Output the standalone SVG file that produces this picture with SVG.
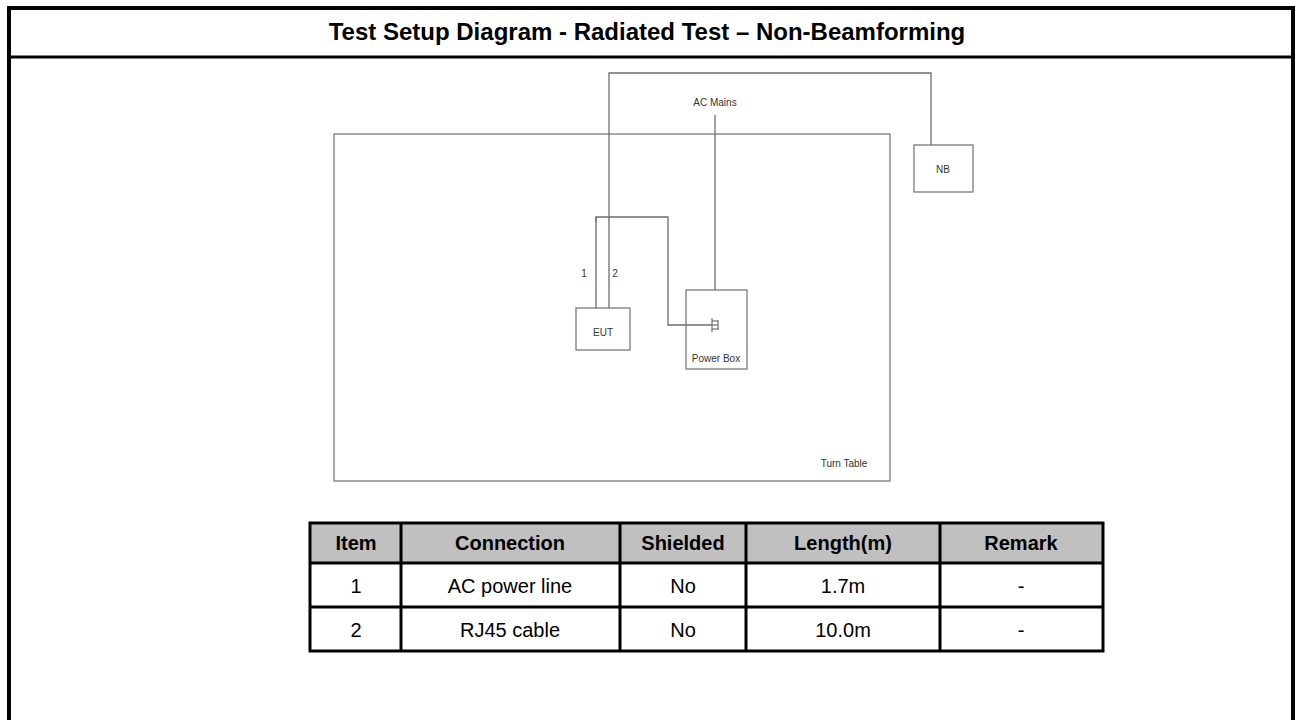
<svg xmlns="http://www.w3.org/2000/svg" width="1295" height="720" viewBox="0 0 1295 720">
<style>
.frame{fill:none;stroke:#000;stroke-width:4}
.box{fill:none;stroke:#7a7a7a;stroke-width:1.3}
.wire{fill:none;stroke:#6e6e6e;stroke-width:1.3}
.lbl{font-family:"Liberation Sans",Arial,sans-serif;font-size:10px;fill:#333;text-anchor:middle}
.title{font-family:"Liberation Sans",Arial,sans-serif;font-size:24px;font-weight:bold;fill:#000;text-anchor:middle}
.th{font-family:"Liberation Sans",Arial,sans-serif;font-size:20px;font-weight:bold;fill:#000;text-anchor:middle}
.td{font-family:"Liberation Sans",Arial,sans-serif;font-size:20px;fill:#000;text-anchor:middle}
.tb{fill:none;stroke:#000;stroke-width:3}
</style>
<rect width="1295" height="720" fill="#fff"/>
<g id="frame">
<path class="frame" d="M9,722 V8 H1293 V722"/>
<line x1="9" y1="57" x2="1293" y2="57" stroke="#000" stroke-width="3"/>
<text class="title" x="647" y="40">Test Setup Diagram - Radiated Test – Non-Beamforming</text>
</g>
<g id="turntable">
<rect class="box" x="334" y="134" width="556" height="347"/>
<text class="lbl" x="844" y="467">Turn Table</text>
</g>
<g id="acmains">
<text class="lbl" x="715" y="106">AC Mains</text>
</g>
<g id="nb">
<rect class="box" x="914" y="145" width="59" height="47"/>
<text class="lbl" x="943" y="173">NB</text>
</g>
<g id="powerbox">
<rect class="box" x="686" y="290" width="61" height="79"/>
<text class="lbl" x="716" y="362" font-size="9">Power Box</text>
<g stroke="#666" stroke-width="1.1" fill="none">
<line x1="712" y1="318" x2="712" y2="332"/>
<line x1="712" y1="321" x2="718" y2="321"/>
<line x1="712" y1="325" x2="718" y2="325"/>
<line x1="712" y1="329" x2="718" y2="329"/>
<line x1="718" y1="320" x2="718" y2="330"/>
</g>
</g>
<g id="eut">
<rect class="box" x="576" y="308" width="54" height="42"/>
<text class="lbl" x="603" y="336">EUT</text>
<text class="lbl" x="584" y="277">1</text>
<text class="lbl" x="615" y="277">2</text>
</g>
<g id="connectors">
<path class="wire" d="M609,308 V73 H931 V145"/>
<line class="wire" x1="715" y1="115" x2="715" y2="290"/>
<path class="wire" d="M596,308 V217 H668 V325 H712"/>
<line class="wire" x1="596" y1="217" x2="596" y2="222"/>
</g>
<g id="table">
<rect x="310" y="523" width="793" height="40" fill="#c0c0c0"/>
<rect class="tb" x="310" y="523" width="793" height="128"/>
<line class="tb" x1="310" y1="563" x2="1103" y2="563"/>
<line class="tb" x1="310" y1="607" x2="1103" y2="607"/>
<line class="tb" x1="401" y1="523" x2="401" y2="651"/>
<line class="tb" x1="620" y1="523" x2="620" y2="651"/>
<line class="tb" x1="746" y1="523" x2="746" y2="651"/>
<line class="tb" x1="940" y1="523" x2="940" y2="651"/>
<text class="th" x="356" y="550">Item</text>
<text class="th" x="510" y="550">Connection</text>
<text class="th" x="683" y="550">Shielded</text>
<text class="th" x="843" y="550">Length(m)</text>
<text class="th" x="1021" y="550">Remark</text>
<text class="td" x="356" y="593">1</text>
<text class="td" x="510" y="593">AC power line</text>
<text class="td" x="683" y="593">No</text>
<text class="td" x="843" y="593">1.7m</text>
<text class="td" x="1021" y="593">-</text>
<text class="td" x="356" y="637">2</text>
<text class="td" x="510" y="637">RJ45 cable</text>
<text class="td" x="683" y="637">No</text>
<text class="td" x="843" y="637">10.0m</text>
<text class="td" x="1021" y="637">-</text>
</g>
</svg>
